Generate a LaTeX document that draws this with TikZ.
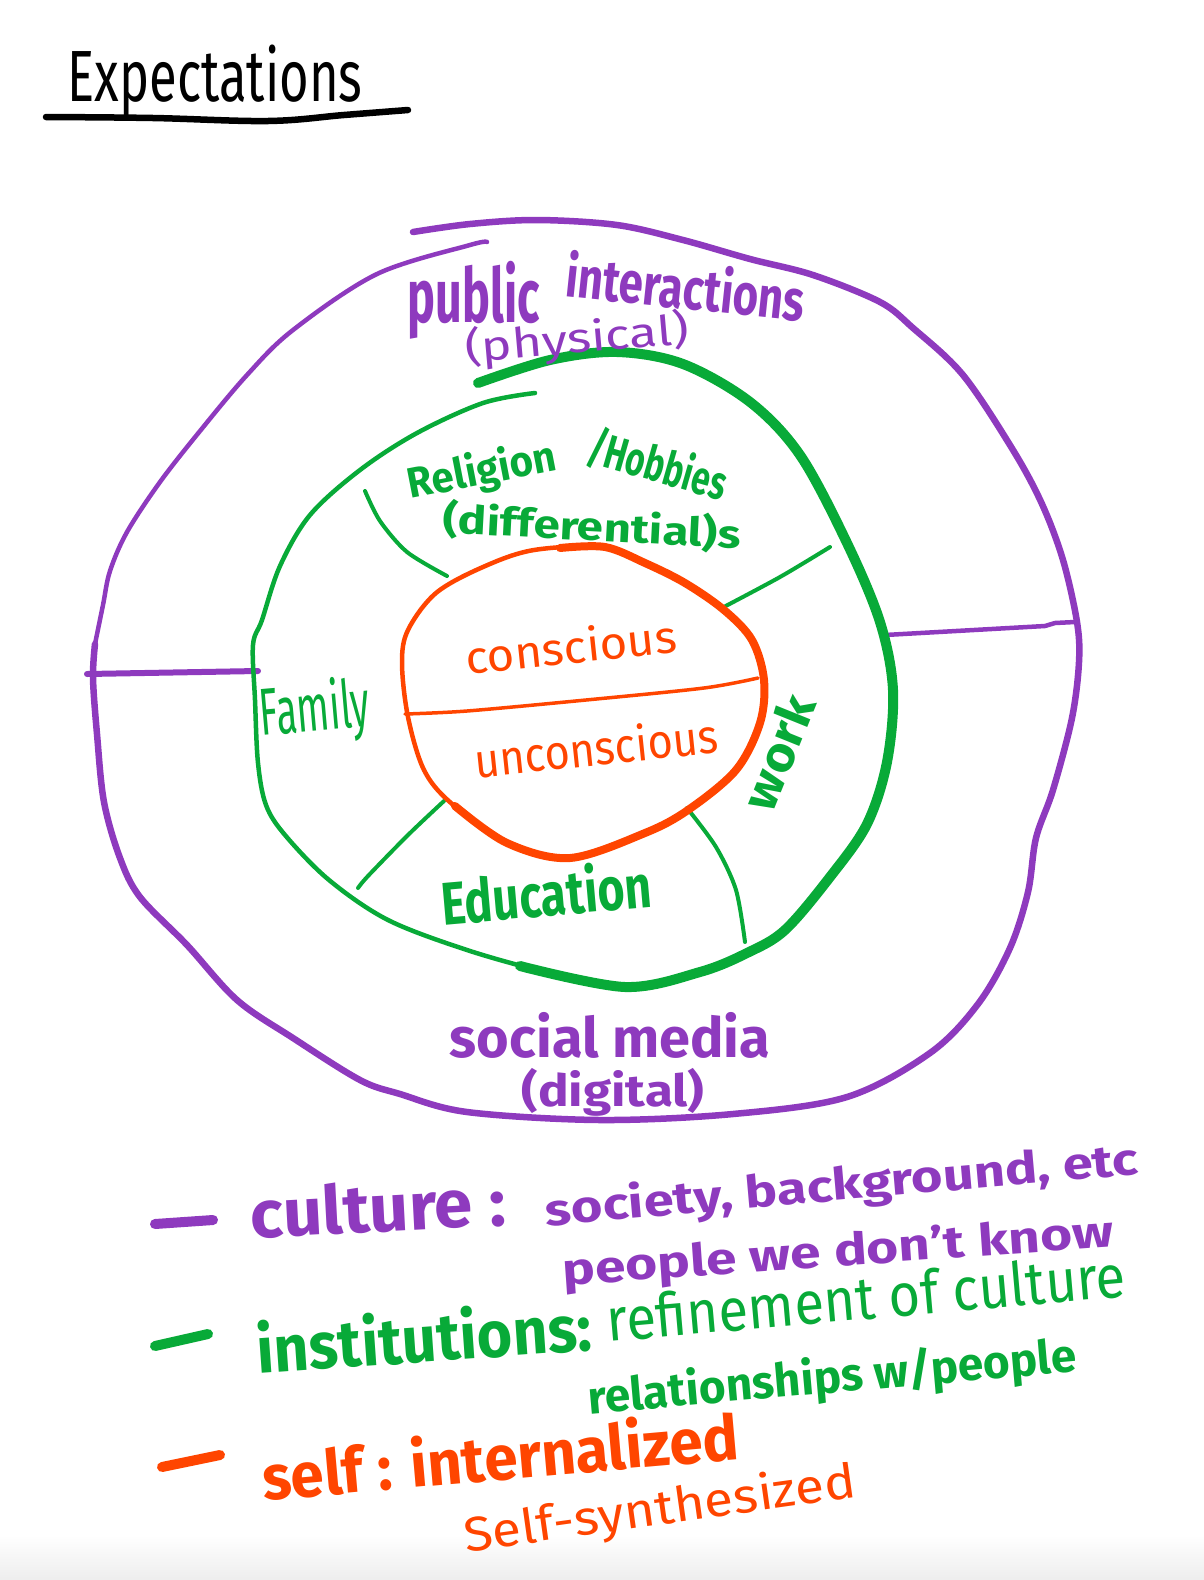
\documentclass[tikz,border=0pt]{standalone}
\usepackage{fontspec}
\setmainfont{Fira Sans}
\usepackage{graphicx}
\definecolor{pur}{RGB}{142,58,190}
\definecolor{grn}{RGB}{8,170,56}
\definecolor{org}{RGB}{255,69,0}
\newcommand{\fitt}[3]{\resizebox*{#1pt}{#2pt}{#3}}
\begin{document}
\begin{tikzpicture}[x=1pt,y=-1pt,
  txt/.style={inner sep=0pt, outer sep=0pt},
  ring/.style={line cap=round, line join=round},
  dashmark/.style={line width=10pt, line cap=round}]
\useasboundingbox (0,0) rectangle (1204,1580);
\shade[top color=white, bottom color=black!7] (0,1535) rectangle (1204,1580);

% title
\node[txt] (title) at (215,81) {\fitt{295}{72}{Expectations}};
\draw[ring, line width=6.5pt] plot[smooth, tension=0.6] coordinates {(46,117) (153,118) (268,121) (344,115) (408,110)};

% outer purple ring
\draw[ring, pur, line width=6.5pt] plot[smooth, tension=0.55] coordinates {(413,232) (470,224) (537,220) (617,225) (683,240) (750,259) (813,275) (880,302) (913,328) (963,375) (1013,450) (1042,504) (1063,560) (1077,622) (1079,662) (1072,718) (1053,790) (1036,838) (1028,892) (1010,948) (978,1004) (930,1053) (847,1097) (733,1114) (600,1120) (467,1112) (400,1094) (360,1080) (293,1038) (237,1000) (187,945) (140,897) (120,858) (104,802) (97,734) (93,678) (95,644)};
\draw[ring, pur, line width=4.5pt] plot[smooth, tension=0.55] coordinates {(95,644) (103,605) (110,571) (127,532) (160,482) (200,431) (247,375) (293,330) (377,274) (470,245) (487,242)};
\draw[ring, pur, line width=6pt] (87,674) -- (258,671);
\draw[ring, pur, line width=4.5pt] (885,635) -- (1045,626) -- (1055,623) -- (1075,622);

% green ring
\draw[ring, grn, line width=4.5pt] plot[smooth, tension=0.55] coordinates {(535,393) (483,403) (417,433) (360,470) (310,515) (280,566) (262,620) (253,645) (255,700) (258,763) (266,805) (285,835) (329,880) (388,920) (467,950) (545,972) (600,983)};
\draw[ring, grn, line width=10pt] plot[smooth, tension=0.55] coordinates {(520,966) (625,987) (700,972) (747,953) (785,930) (830,877) (867,824) (887,762) (893,690) (880,622) (847,543) (800,455) (750,402) (683,364) (617,352) (550,360) (478,383)};
\draw[ring, grn, line width=4pt] plot[smooth] coordinates {(365,491) (380,521) (407,552) (447,576)};
\draw[ring, grn, line width=4pt] plot[smooth] coordinates {(830,547) (780,577) (720,609)};
\draw[ring, grn, line width=4pt] plot[smooth] coordinates {(444,801) (408,835) (368,876) (358,888)};
\draw[ring, grn, line width=4pt] plot[smooth] coordinates {(687,808) (716,847) (736,890) (745,942)};

% orange core
\draw[ring, org, line width=4.5pt] plot[smooth cycle, tension=0.55] coordinates {(534,550) (605,547) (645,563) (685,583) (724,610) (752,640) (764,680) (760,723) (736,770) (688,810) (645,833) (570,858) (507,843) (451,803) (424,770) (408,717) (402,663) (408,630) (436,593) (483,567)};
\draw[ring, org, line width=8pt] plot[smooth, tension=0.55] coordinates {(560,548) (605,547) (645,563) (685,583) (724,610) (752,640) (764,680) (760,723) (736,770) (688,810) (645,833) (570,858) (507,843) (455,806)};
\draw[ring, org, line width=3.5pt] plot[smooth] coordinates {(405,714) (467,711) (586,700) (704,688) (758,678)};

% ring labels
\node[txt, pur] (pub) at (474,300) {\fitt{132}{78}{\bfseries public}};
\node[txt, pur, rotate=-6] (inter) at (686,286) {\fitt{240}{48}{\bfseries interactions}};
\node[txt, pur, rotate=5] (phys) at (577,340) {\fitt{225}{44}{(physical)}};
\node[txt, grn, rotate=11] (rel) at (482,472) {\fitt{150}{44}{\bfseries Religion}};
\node[txt, grn, rotate=-16] (hob) at (658,465) {\fitt{142}{44}{\bfseries /Hobbies}};
\node[txt, grn, rotate=-3] (diff) at (592,527) {\fitt{298}{40}{\bfseries (differential)s}};
\node[txt, org, rotate=6] (con) at (571,646) {\fitt{212}{36}{conscious}};
\node[txt, org, rotate=6] (uncon) at (596,747) {\fitt{245}{38}{unconscious}};
\node[txt, grn, rotate=5] (fam) at (315,712) {\fitt{110}{66}{Family}};
\node[txt, grn, rotate=68] (work) at (778,752) {\fitt{120}{38}{\bfseries work}};
\node[txt, grn, rotate=5] (edu) at (546,892) {\fitt{210}{50}{\bfseries Education}};
\node[txt, pur] (soc) at (610,1035) {\fitt{320}{46}{\bfseries social media}};
\node[txt, pur] (dig) at (613,1092) {\fitt{183}{48}{\bfseries (digital)}};

% legend
\draw[pur, dashmark] (155,1224) -- (213,1220);
\node[txt, pur, rotate=3] (cult) at (378,1207) {\fitt{255}{52}{\bfseries culture :}};
\node[txt, pur, rotate=5] (soc2) at (842,1187) {\fitt{595}{46}{\bfseries society, background, etc}};
\node[txt, pur, rotate=4] (ppl) at (838,1254) {\fitt{552}{44}{\bfseries people we don't know}};
\draw[grn, dashmark] (155,1346) -- (208,1334);
\node[txt, grn, rotate=4] (inst) at (424,1336) {\fitt{335}{54}{\bfseries institutions:}};
\node[txt, grn, rotate=5] (ref) at (866,1297) {\fitt{520}{46}{refinement of culture}};
\node[txt, grn, rotate=5] (relp) at (832,1379) {\fitt{490}{48}{\bfseries relationships w/people}};
\draw[org, dashmark] (162,1467) -- (220,1455);
\node[txt, org, rotate=5] (self) at (500,1455) {\fitt{478}{52}{\bfseries self : internalized}};
\node[txt, org, rotate=8] (syn) at (660,1511) {\fitt{395}{48}{Self-synthesized}};
\end{tikzpicture}
\end{document}
